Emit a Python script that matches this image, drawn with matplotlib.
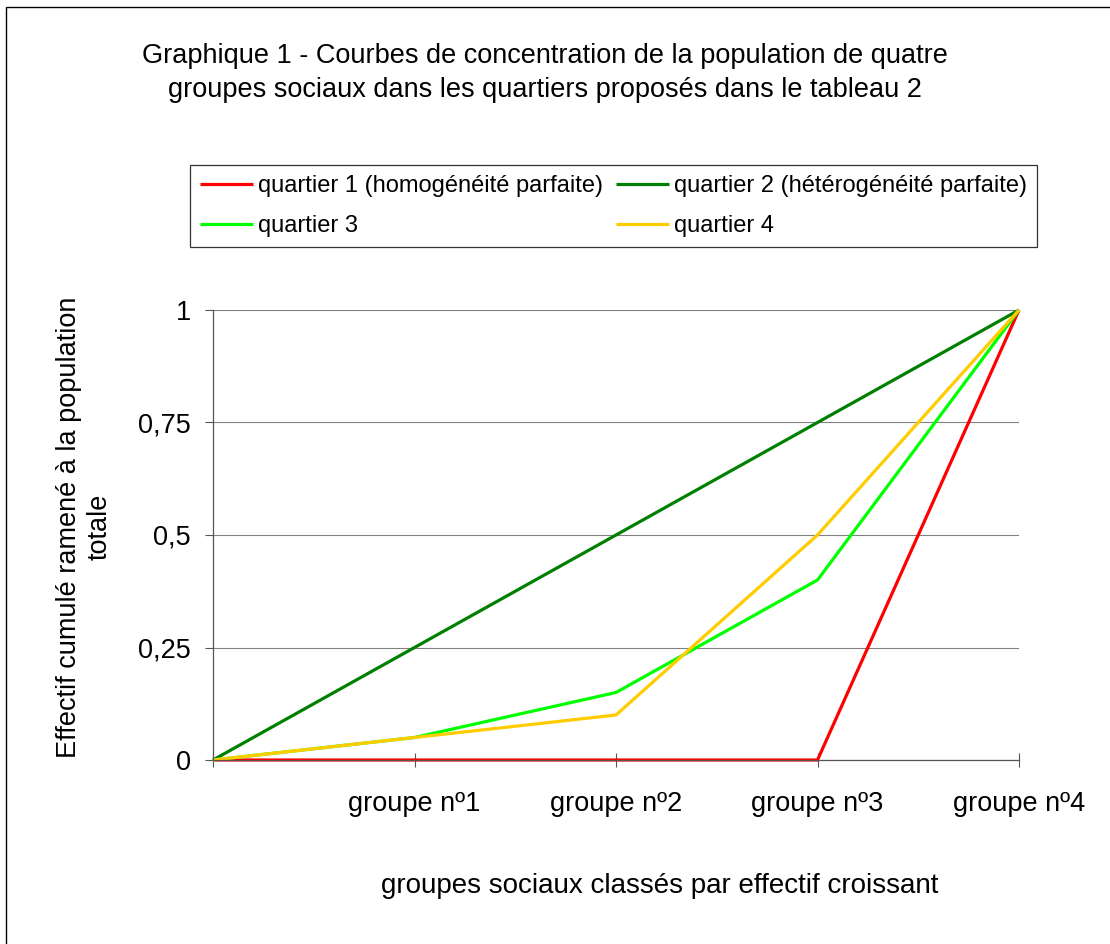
import matplotlib
matplotlib.use("Agg")
import matplotlib.pyplot as plt
from matplotlib.patches import Rectangle

plt.rcParams['font.family'] = ['Liberation Sans', 'DejaVu Sans']

positions = [0, 1, 2, 3, 4]
tick_labels = ["groupe nº1", "groupe nº2", "groupe nº3", "groupe nº4"]
series_names = ["quartier 1 (homogénéité parfaite)", "quartier 2 (hétérogénéité parfaite)",
                "quartier 3", "quartier 4"]
q1 = [0, 0, 0, 0, 1]
q2 = [0, 0.25, 0.5, 0.75, 1]
q3 = [0, 0.05, 0.15, 0.4, 1]
q4 = [0, 0.05, 0.1, 0.5, 1]
colors = ["#FF0000", "#008000", "#00FF00", "#FFCC00"]
yticks = [0, 0.25, 0.5, 0.75, 1]
ytick_labels = ["0", "0,25", "0,5", "0,75", "1"]

FS = 19.5
fig = plt.figure(figsize=(11.1, 9.44), dpi=100)
ax = fig.add_axes([213/1110, 1-760/944, (1019-213)/1110, (760-310)/944])

handles = []
for s, c, n in zip([q1, q2, q3, q4], colors, series_names):
    h, = ax.plot(positions, s, color=c, lw=2.3, label=n, solid_capstyle='butt', clip_on=False)
    handles.append(h)

ax.set_xlim(0, 4)
ax.set_ylim(0, 1)
ax.set_yticks(yticks)
ax.set_yticklabels(ytick_labels, fontsize=FS)
ax.set_xticks([0, 1, 2, 3, 4])
ax.set_xticklabels([""] + tick_labels, fontsize=FS)
ax.tick_params(axis='x', direction='inout', length=10, pad=17, color='#555555')
ax.tick_params(axis='y', direction='out', length=6, pad=10, color='#555555')
ax.yaxis.grid(True, color='#808080', lw=0.8)
ax.set_axisbelow(True)
for sp in ['top', 'right']:
    ax.spines[sp].set_visible(False)
for sp in ['left', 'bottom']:
    ax.spines[sp].set_color('#555555')
    ax.spines[sp].set_linewidth(0.9)

fig.text(545/1110, 1-73/944, "Graphique 1 - Courbes de concentration de la population de quatre\ngroupes sociaux dans les quartiers proposés dans le tableau 2",
         ha='center', va='center', fontsize=FS, linespacing=1.42)
fig.text(84/1110, 1-527/944, "Effectif cumulé ramené à la population\ntotale",
         ha='center', va='center', rotation=90, fontsize=FS, linespacing=1.22)
fig.text(660/1110, 1-886/944, "groupes sociaux classés par effectif croissant",
         ha='center', va='center', fontsize=20)

order = [0, 2, 1, 3]
leg = fig.legend(handles=[handles[i] for i in order],
                 labels=[series_names[i] for i in order], ncol=2, loc='upper left',
                 bbox_to_anchor=(190/1110, 1-165/944, 847/1110, 0.0), mode='expand',
                 fontsize=17, frameon=True, fancybox=False, edgecolor='black',
                 handlelength=2.25, handletextpad=0.2, borderaxespad=0, borderpad=0.42,
                 labelspacing=0.78)
leg.get_frame().set_linewidth(0.9)

fig.patches.append(Rectangle((6/1110, -0.1), 1.2, 1-7/944+0.1, transform=fig.transFigure,
                             fill=False, edgecolor='black', lw=1.0))

fig.savefig("out.png", dpi=100)
